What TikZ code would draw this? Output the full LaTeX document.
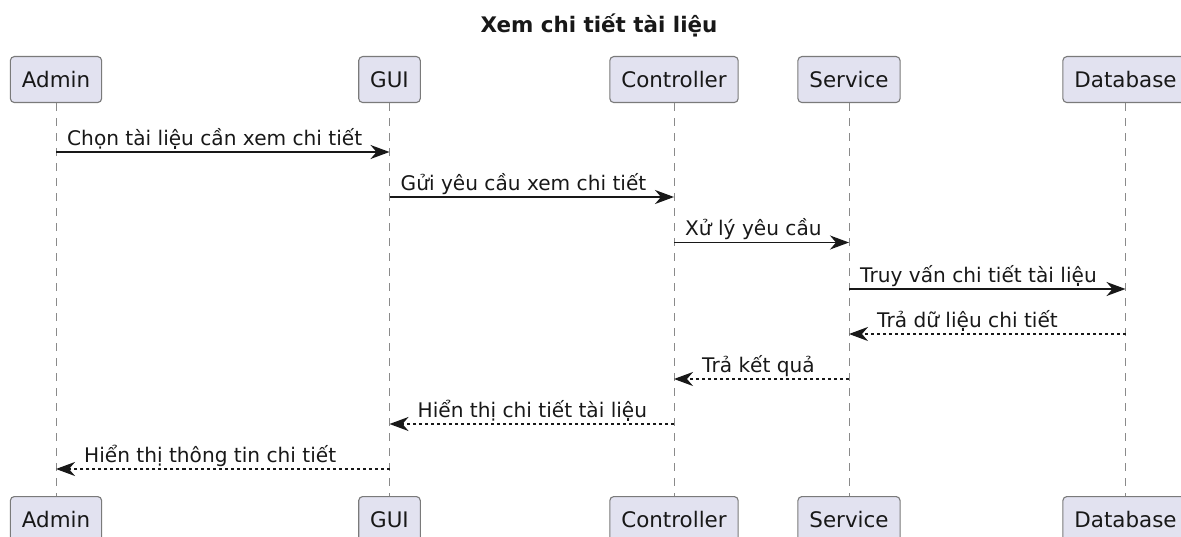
\documentclass[tikz,border=0pt]{standalone}
\usepackage{fontspec}
\setmainfont{DejaVu Sans}
\usetikzlibrary{arrows.meta}
\definecolor{partfill}{HTML}{E2E2F0}
\definecolor{partline}{HTML}{7A7A7A}
\definecolor{lifegray}{HTML}{8A8A8A}
\definecolor{ink}{HTML}{181818}
\tikzset{
  participant/.style={draw=partline, line width=1.1bp, fill=partfill, rounded corners=4bp,
    minimum height=46bp, inner xsep=11.5bp, inner ysep=0pt, anchor=north,
    font=\fontsize{21.5}{25}\selectfont, text=ink},
  lifeline/.style={draw=lifegray, line width=1bp, dash pattern=on 7.5bp off 7.5bp},
  call/.style={draw=ink, line width=1.5bp, -{Stealth[length=19bp,width=14bp,inset=6bp]}},
  reply/.style={call, dash pattern=on 3bp off 3bp},
  msglabel/.style={anchor=base west, inner sep=0pt, font=\fontsize{20.2}{24}\selectfont, text=ink},
  heading/.style={anchor=base, inner sep=0pt, font=\bfseries\fontsize{21.5}{25}\selectfont, text=ink},
}
\begin{document}
\begin{tikzpicture}[x=1bp, y=-1bp]
  \useasboundingbox (0,0) rectangle (1181,537);
  \fill[white] (0,0) rectangle (1181,537);
  \clip (0,0) rectangle (1181,537);

  \node[heading] (title) at (599,33) {Xem chi tiết tài liệu};

  % participants, top row
  \node[participant] (admin) at (56,56)    {Admin};
  \node[participant] (gui)   at (389.5,56) {GUI};
  \node[participant] (ctrl)  at (674,56)   {Controller};
  \node[participant] (svc)   at (849,56)   {Service};
  \node[participant] (db)    at (1125.5,56) {Database};

  % participants, bottom row
  \node[participant] (admin2) at (56,496)    {Admin};
  \node[participant] (gui2)   at (389.5,496) {GUI};
  \node[participant] (ctrl2)  at (674,496)   {Controller};
  \node[participant] (svc2)   at (849,496)   {Service};
  \node[participant] (db2)    at (1125.5,496) {Database};

  % lifelines
  \draw[lifeline] (admin.south) -- (admin2.north);
  \draw[lifeline] (gui.south)   -- (gui2.north);
  \draw[lifeline] (ctrl.south)  -- (ctrl2.north);
  \draw[lifeline] (svc.south)   -- (svc2.north);
  \draw[lifeline] (db.south)    -- (db2.north);

  % requests
  \draw[call] (admin.south |- 0,152) -- (gui.south |- 0,152);
  \path (admin.south |- 0,152) ++(11,-6.5) node[msglabel] {Chọn tài liệu cần xem chi tiết};

  \draw[call] (gui.south |- 0,197) -- (ctrl.south |- 0,197);
  \path (gui.south |- 0,197) ++(11,-6.5) node[msglabel] {Gửi yêu cầu xem chi tiết};

  \draw[call] (ctrl.south |- 0,242.5) -- (svc.south |- 0,242.5);
  \path (ctrl.south |- 0,242.5) ++(11,-6.5) node[msglabel] {Xử lý yêu cầu};

  \draw[call] (svc.south |- 0,289) -- (db.south |- 0,289);
  \path (svc.south |- 0,289) ++(11,-6.5) node[msglabel] {Truy vấn chi tiết tài liệu};

  % replies
  \draw[reply] (db.south |- 0,334) -- (svc.south |- 0,334);
  \path (svc.south |- 0,334) ++(28,-6.5) node[msglabel] {Trả dữ liệu chi tiết};

  \draw[reply] (svc.south |- 0,379) -- (ctrl.south |- 0,379);
  \path (ctrl.south |- 0,379) ++(28,-6.5) node[msglabel] {Trả kết quả};

  \draw[reply] (ctrl.south |- 0,424) -- (gui.south |- 0,424);
  \path (gui.south |- 0,424) ++(28,-6.5) node[msglabel] {Hiển thị chi tiết tài liệu};

  \draw[reply] (gui.south |- 0,469) -- (admin.south |- 0,469);
  \path (admin.south |- 0,469) ++(28,-6.5) node[msglabel] {Hiển thị thông tin chi tiết};
\end{tikzpicture}
\end{document}
